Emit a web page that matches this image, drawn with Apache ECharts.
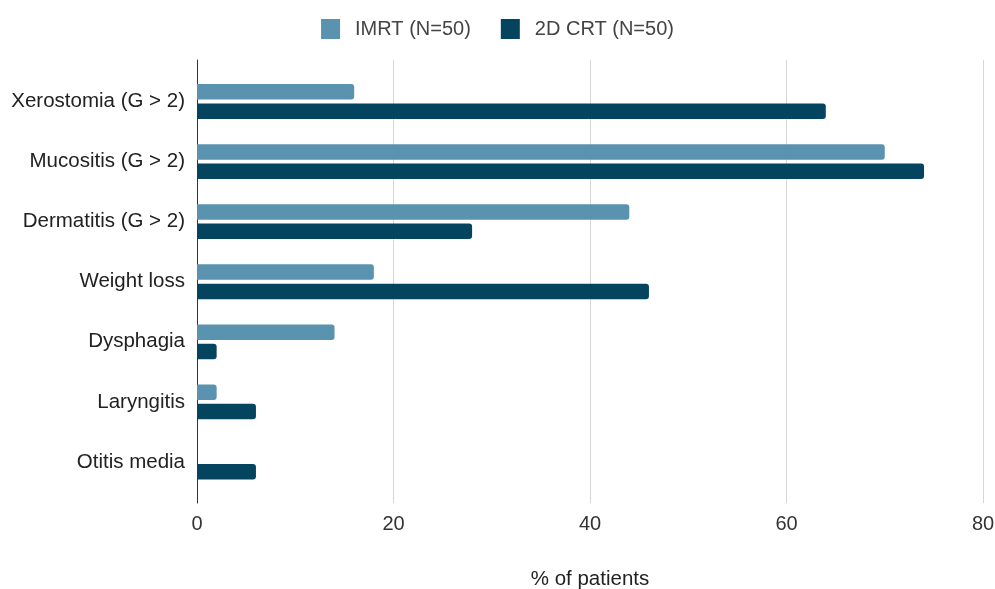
<!DOCTYPE html>
<html>
<head>
<meta charset="utf-8">
<script src="https://cdn.jsdelivr.net/npm/echarts@6/dist/echarts.min.js"></script>
<style>
  html, body { margin: 0; padding: 0; background: #fff; }
  #chart { width: 995px; height: 589px; }
</style>
</head>
<body>
<div id="chart"></div>
<script>
// Side effects, top to bottom
const categories = [
  'Xerostomia (G > 2)',
  'Mucositis (G > 2)',
  'Dermatitis (G > 2)',
  'Weight loss',
  'Dysphagia',
  'Laryngitis',
  'Otitis media'
];
const imrtValues = [16, 70, 44, 18, 14, 2, 0];
const crtValues = [64, 74, 28, 46, 2, 6, 6];
const seriesNames = ['IMRT (N=50)', '2D CRT (N=50)'];
const xTicks = [0, 20, 40, 60, 80];

const FONT = '"Liberation Sans", Arial, sans-serif';
const LIGHT = '#5a93b0';
const DARK = '#04445f';

const chart = echarts.init(document.getElementById('chart'), null, { renderer: 'canvas' });

chart.setOption({
  animation: false,
  textStyle: { fontFamily: FONT },
  legend: {
    top: 14,
    left: 'center',
    itemWidth: 19,
    itemHeight: 20,
    itemGap: 30,
    icon: 'rect',
    textStyle: { fontSize: 20, color: '#444', fontFamily: FONT, padding: [0, 0, 0, 10] },
    data: seriesNames
  },
  grid: [
    // frame grid: gridlines and the vertical axis line
    { left: 197, right: 12, top: 60, bottom: 86, containLabel: false, outerBoundsMode: 'none' },
    // bar grid
    { left: 197, right: 12, top: 71.5, bottom: 97, containLabel: false, outerBoundsMode: 'none' }
  ],
  xAxis: [
    {
      type: 'value', gridIndex: 0, min: xTicks[0], max: xTicks[xTicks.length - 1], interval: 20,
      axisLine: { show: false },
      axisTick: { show: false },
      splitLine: { lineStyle: { color: '#d6d6d6', width: 1 } },
      axisLabel: { color: '#333', fontSize: 20, margin: 11, fontFamily: FONT },
      name: '% of patients',
      nameLocation: 'middle',
      nameGap: 66,
      nameTextStyle: { color: '#222', fontSize: 20.5, fontFamily: FONT }
    },
    {
      type: 'value', gridIndex: 1, min: xTicks[0], max: xTicks[xTicks.length - 1], interval: 20,
      show: false
    }
  ],
  yAxis: [
    {
      type: 'category', gridIndex: 0, data: [''],
      axisLine: { show: true, lineStyle: { color: '#333', width: 1 } },
      axisTick: { show: false },
      axisLabel: { show: false }
    },
    {
      type: 'category', gridIndex: 1, data: categories, inverse: true,
      axisLine: { show: false },
      axisTick: { show: false },
      axisLabel: { color: '#222', fontSize: 20.5, margin: 12, fontFamily: FONT }
    }
  ],
  series: [
    {
      name: seriesNames[0], type: 'bar', xAxisIndex: 1, yAxisIndex: 1,
      data: imrtValues, barWidth: 15.5, barGap: '25%',
      itemStyle: { color: LIGHT, borderRadius: [0, 3, 3, 0] }
    },
    {
      name: seriesNames[1], type: 'bar', xAxisIndex: 1, yAxisIndex: 1,
      data: crtValues, barWidth: 15.5, barGap: '25%',
      itemStyle: { color: DARK, borderRadius: [0, 3, 3, 0] }
    }
  ]
});
</script>
</body>
</html>
